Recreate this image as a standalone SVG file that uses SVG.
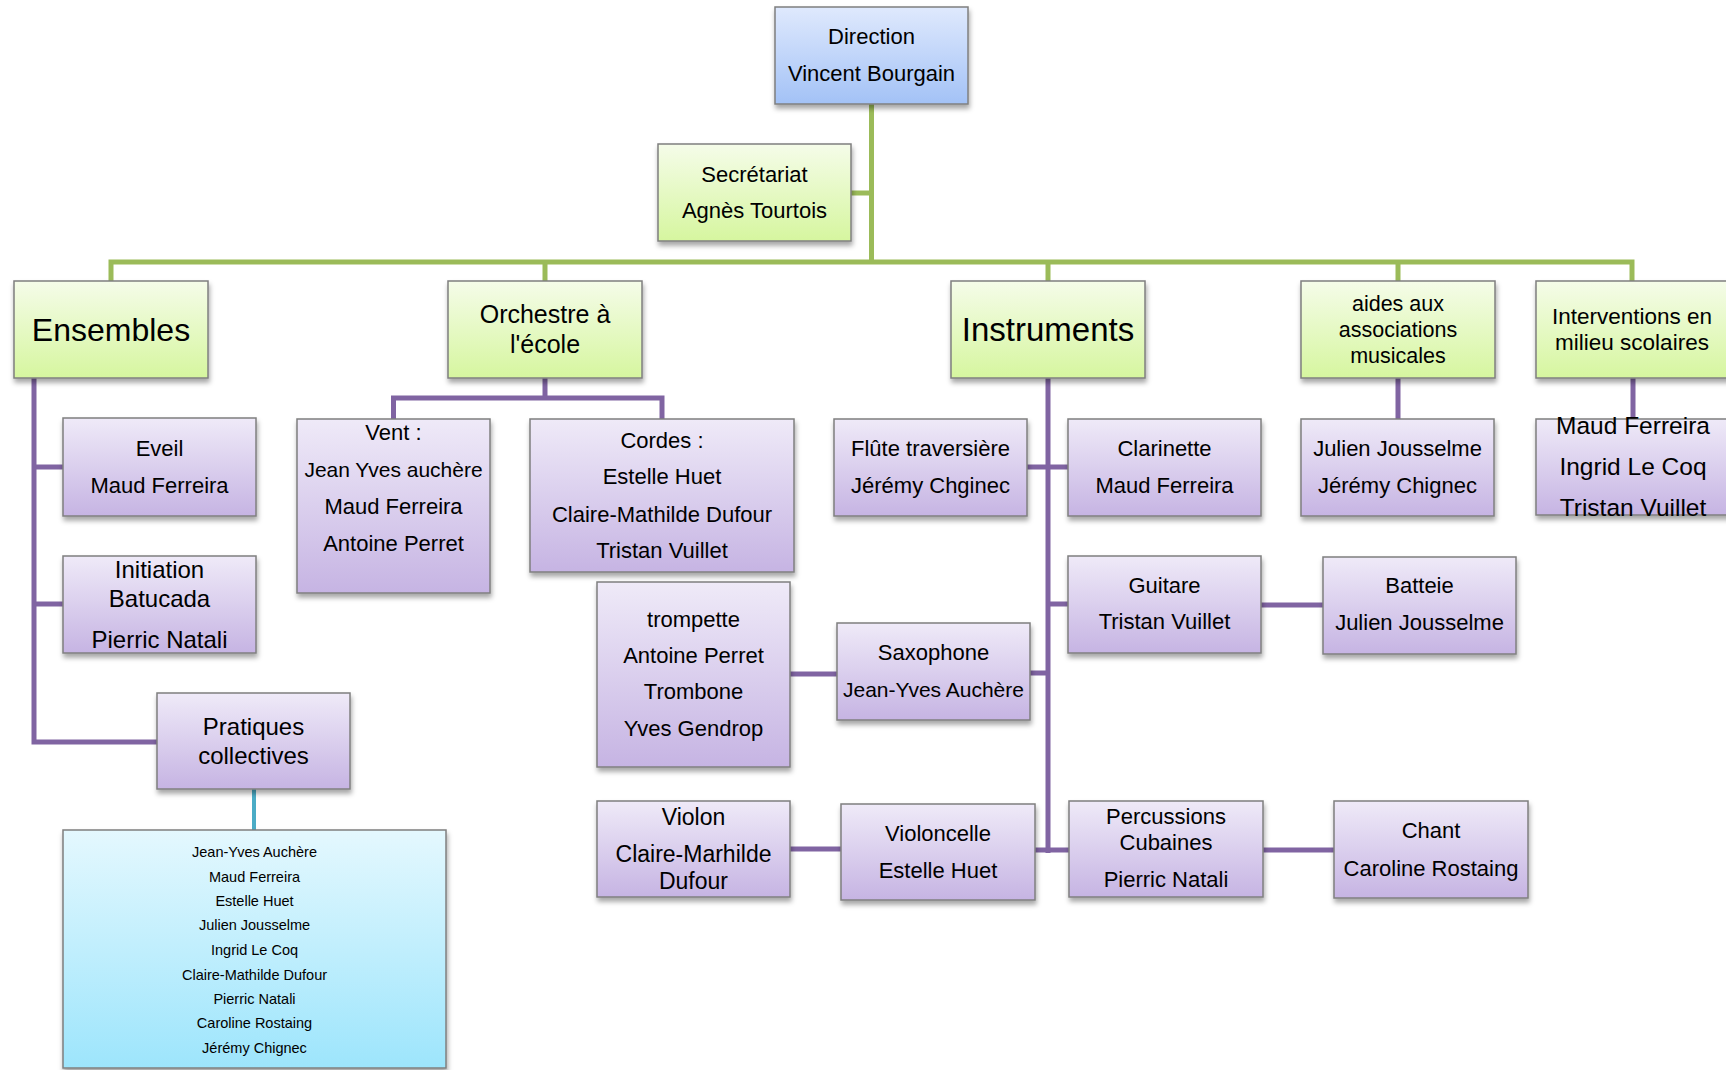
<svg xmlns="http://www.w3.org/2000/svg" width="1726" height="1070" viewBox="0 0 1726 1070">
<defs>
<linearGradient id="gBlue" x1="0" y1="0" x2="0" y2="1"><stop offset="0" stop-color="#dfe9fd"/><stop offset="1" stop-color="#a3c2f6"/></linearGradient>
<linearGradient id="gGreen" x1="0" y1="0" x2="0" y2="1"><stop offset="0" stop-color="#f5fce9"/><stop offset="1" stop-color="#d6f69f"/></linearGradient>
<linearGradient id="gPurple" x1="0" y1="0" x2="0" y2="1"><stop offset="0" stop-color="#efeaf8"/><stop offset="1" stop-color="#c6b4e3"/></linearGradient>
<linearGradient id="gCyan" x1="0" y1="0" x2="0" y2="1"><stop offset="0" stop-color="#e4f8fe"/><stop offset="1" stop-color="#9de5fc"/></linearGradient>
<filter id="sh" x="-10%" y="-10%" width="120%" height="130%"><feDropShadow dx="1" dy="4" stdDeviation="2.5" flood-color="#000" flood-opacity="0.35"/></filter>
</defs>
<style>
.box{stroke:#7f7f7f;stroke-width:1.5;filter:url(#sh)}
.blue{fill:url(#gBlue)}.green{fill:url(#gGreen)}.purple{fill:url(#gPurple)}.cyan{fill:url(#gCyan)}
text{font-family:"Liberation Sans",Arial,sans-serif;font-size:22px;fill:#000;text-anchor:middle}
.cg{fill:none;stroke:#9bbb59;stroke-width:5;stroke-linejoin:miter}
.cp{fill:none;stroke:#8064a2;stroke-width:5;stroke-linejoin:miter}
.cc{fill:none;stroke:#4bacc6;stroke-width:4}
</style>
<rect width="1726" height="1070" fill="#fff"/>
<g id="connectors">
<path class="cg" d="M871.5 104V262M851 193H871.5M111 281V262H1632V281M545 262V281M1048 262V281M1398 262V281"/>
<path class="cp" d="M34 378V742H157M34 467H63M34 604H63"/>
<path class="cp" d="M545 378V398M393.5 419V398H662V419"/>
<path class="cp" d="M1048 378V853M1027 467H1068M1030 673H1048M1048 604H1068M1035 850H1069"/>
<path class="cp" d="M790 674H837M1261 605H1323M790 849H841M1263 850H1334M1398 378V419M1633 378V419"/>
<path class="cc" d="M254 789V830"/>
</g>
<g id="direction"><rect class="box blue" x="775" y="7" width="193" height="97"/><text x="871.5" y="44">Direction</text><text x="871.5" y="81">Vincent Bourgain</text></g>
<g id="secretariat"><rect class="box green" x="658" y="144" width="193" height="97"/><text x="754.5" y="182">Secrétariat</text><text x="754.5" y="218">Agnès Tourtois</text></g>
<g id="ensembles"><rect class="box green" x="14" y="281" width="194" height="97"/><text x="111" y="341" style="font-size:32px">Ensembles</text></g>
<g id="orchestre"><rect class="box green" x="448" y="281" width="194" height="97"/><text x="545" y="323" style="font-size:25px">Orchestre à</text><text x="545" y="353" style="font-size:25px">l'école</text></g>
<g id="instruments"><rect class="box green" x="951" y="281" width="194" height="97"/><text x="1048" y="341" style="font-size:33px">Instruments</text></g>
<g id="aides"><rect class="box green" x="1301" y="281" width="194" height="97"/><g style="font-size:21.5px"><text x="1398" y="311" style="font-size:21.5px">aides aux</text><text x="1398" y="337" style="font-size:21.5px">associations</text><text x="1398" y="363" style="font-size:21.5px">musicales</text></g></g>
<g id="interventions"><rect class="box green" x="1536" y="281" width="194" height="97"/><text x="1632" y="324" style="font-size:22.5px">Interventions en</text><text x="1632" y="350" style="font-size:22.5px">milieu scolaires</text></g>
<g id="eveil"><rect class="box purple" x="63" y="418" width="193" height="98"/><text x="159.5" y="456">Eveil</text><text x="159.5" y="493">Maud Ferreira</text></g>
<g id="initiation"><rect class="box purple" x="63" y="556" width="193" height="97"/><text x="159.5" y="578" style="font-size:24px">Initiation</text><text x="159.5" y="607" style="font-size:24px">Batucada</text><text x="159.5" y="648" style="font-size:24px">Pierric Natali</text></g>
<g id="pratiques"><rect class="box purple" x="157" y="693" width="193" height="96"/><text x="253.5" y="735" style="font-size:24px">Pratiques</text><text x="253.5" y="764" style="font-size:24px">collectives</text></g>
<g id="membres"><rect class="box cyan" x="63" y="830" width="383" height="238"/>
<text x="254.5" y="857" style="font-size:14.5px">Jean-Yves Auchère</text>
<text x="254.5" y="882" style="font-size:14.5px">Maud Ferreira</text>
<text x="254.5" y="906" style="font-size:14.5px">Estelle Huet</text>
<text x="254.5" y="930" style="font-size:14.5px">Julien Jousselme</text>
<text x="254.5" y="955" style="font-size:14.5px">Ingrid Le Coq</text>
<text x="254.5" y="980" style="font-size:14.5px">Claire-Mathilde Dufour</text>
<text x="254.5" y="1004" style="font-size:14.5px">Pierric Natali</text>
<text x="254.5" y="1028" style="font-size:14.5px">Caroline Rostaing</text>
<text x="254.5" y="1053" style="font-size:14.5px">Jérémy Chignec</text></g>
<g id="vent"><rect class="box purple" x="297" y="419" width="193" height="174"/><text x="393.5" y="440">Vent :</text><text x="393.5" y="477" style="font-size:21px">Jean Yves auchère</text><text x="393.5" y="514">Maud Ferreira</text><text x="393.5" y="551">Antoine Perret</text></g>
<g id="cordes"><rect class="box purple" x="530" y="419" width="264" height="153"/><text x="662" y="448">Cordes :</text><text x="662" y="484">Estelle Huet</text><text x="662" y="522">Claire-Mathilde Dufour</text><text x="662" y="558">Tristan Vuillet</text></g>
<g id="trompette"><rect class="box purple" x="597" y="582" width="193" height="185"/><text x="693.5" y="627">trompette</text><text x="693.5" y="663">Antoine Perret</text><text x="693.5" y="699">Trombone</text><text x="693.5" y="736">Yves Gendrop</text></g>
<g id="saxophone"><rect class="box purple" x="837" y="623" width="193" height="97"/><text x="933.5" y="660">Saxophone</text><text x="933.5" y="697" style="font-size:21px">Jean-Yves Auchère</text></g>
<g id="flute"><rect class="box purple" x="834" y="419" width="193" height="97"/><text x="930.5" y="456">Flûte traversière</text><text x="930.5" y="493">Jérémy Chginec</text></g>
<g id="clarinette"><rect class="box purple" x="1068" y="419" width="193" height="97"/><text x="1164.5" y="456">Clarinette</text><text x="1164.5" y="493">Maud Ferreira</text></g>
<g id="guitare"><rect class="box purple" x="1068" y="556" width="193" height="97"/><text x="1164.5" y="593">Guitare</text><text x="1164.5" y="629">Tristan Vuillet</text></g>
<g id="batteie"><rect class="box purple" x="1323" y="557" width="193" height="97"/><text x="1419.5" y="593">Batteie</text><text x="1419.5" y="630">Julien Jousselme</text></g>
<g id="aides-membres"><rect class="box purple" x="1301" y="419" width="193" height="97"/><text x="1397.5" y="456">Julien Jousselme</text><text x="1397.5" y="493">Jérémy Chignec</text></g>
<g id="interventions-membres"><rect class="box purple" x="1536" y="419" width="194" height="96"/><text x="1633" y="434" style="font-size:24.5px">Maud Ferreira</text><text x="1633" y="475" style="font-size:24.5px">Ingrid Le Coq</text><text x="1633" y="516" style="font-size:24.5px">Tristan Vuillet</text></g>
<g id="violon"><rect class="box purple" x="597" y="801" width="193" height="96"/><text x="693.5" y="825" style="font-size:23px">Violon</text><text x="693.5" y="862" style="font-size:23px">Claire-Marhilde</text><text x="693.5" y="889" style="font-size:23px">Dufour</text></g>
<g id="violoncelle"><rect class="box purple" x="841" y="804" width="194" height="96"/><text x="938" y="841">Violoncelle</text><text x="938" y="878">Estelle Huet</text></g>
<g id="percussions"><rect class="box purple" x="1069" y="801" width="194" height="96"/><text x="1166" y="824">Percussions</text><text x="1166" y="850">Cubaines</text><text x="1166" y="887">Pierric Natali</text></g>
<g id="chant"><rect class="box purple" x="1334" y="801" width="194" height="97"/><text x="1431" y="838">Chant</text><text x="1431" y="876">Caroline Rostaing</text></g>
</svg>
